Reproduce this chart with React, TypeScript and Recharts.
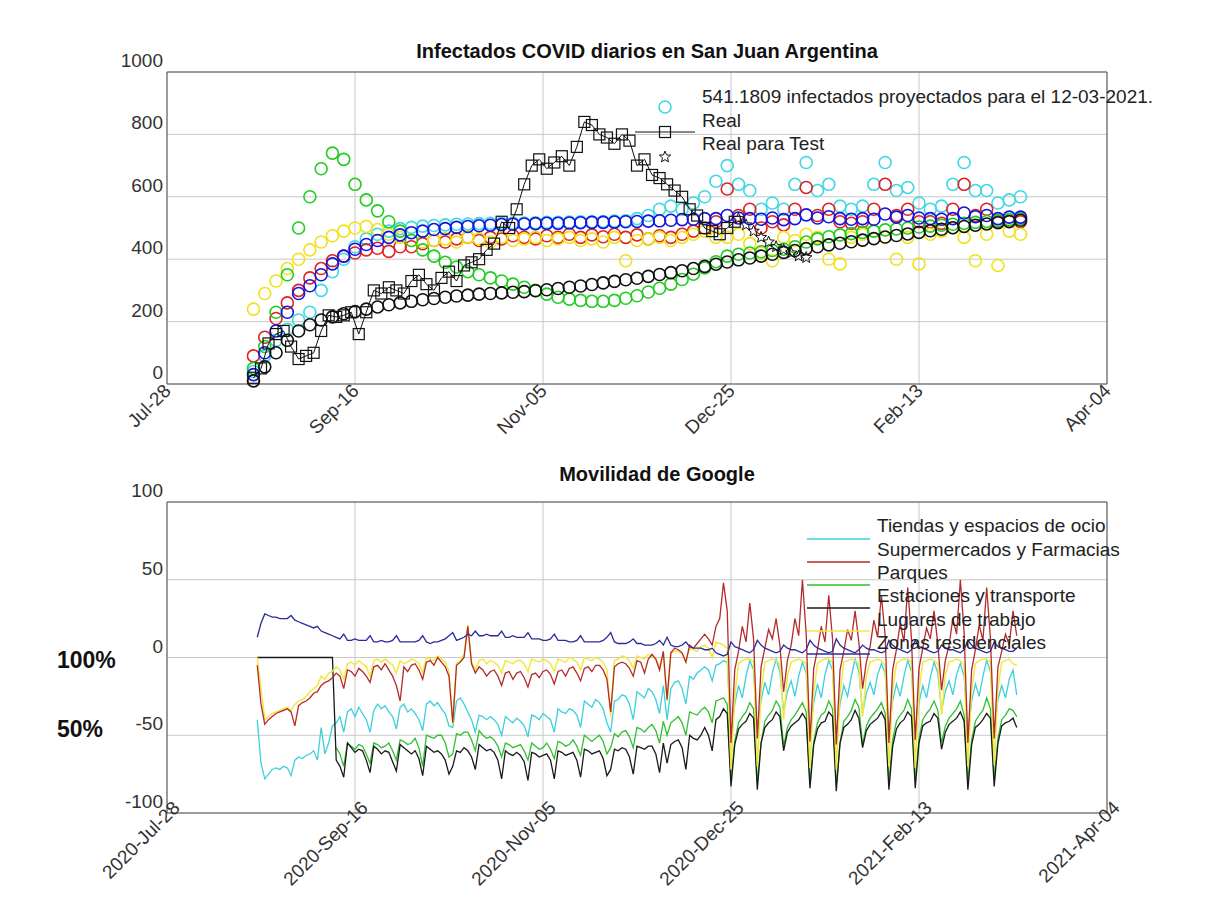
import React from "react";
import {
  ScatterChart, Scatter, LineChart, Line, XAxis, YAxis, CartesianGrid, ReferenceLine,
} from "recharts";

const FONT = '"Liberation Sans", Arial, sans-serif';

// x axis: days since 2020-07-28
const tickDays = [0, 50, 100, 150, 200, 250];
const topTickLabels = ["Jul-28", "Sep-16", "Nov-05", "Dec-25", "Feb-13", "Apr-04"];
const bottomTickLabels = ["2020-Jul-28", "2020-Sep-16", "2020-Nov-05", "2020-Dec-25", "2021-Feb-13", "2021-Apr-04"];
const casesTicks = [0, 200, 400, 600, 800, 1000];
const mobilityTicks = [-100, -50, 0, 50, 100];

// model runs, one point every 3 days from day 23
const MODEL_FIRST_DAY = 23;
const MODEL_STEP = 3;
const modelGreen = [50, 120, 230, 350, 500, 600, 690, 740, 720, 640, 590, 555, 520, 490, 460, 430, 410, 390, 375, 360, 350, 340, 330, 320, 310, 300, 288, 278, 272, 268, 265, 265, 268, 275, 283, 295, 307, 320, 335, 352, 372, 392, 410, 416, 420, 424, 428, 432, 440, 455, 465, 472, 478, 482, 486, 490, 494, 497, 500, 503, 506, 509, 512, 515, 518, 521, 524, 527, 530];
const modelBlack = [10, 55, 100, 140, 170, 190, 205, 215, 225, 232, 240, 247, 254, 260, 265, 270, 274, 278, 282, 285, 288, 290, 292, 294, 296, 299, 302, 306, 310, 314, 319, 324, 329, 334, 339, 345, 351, 357, 363, 370, 377, 384, 391, 398, 404, 410, 416, 422, 428, 434, 440, 446, 451, 456, 461, 466, 471, 476, 481, 486, 491, 496, 501, 505, 509, 513, 517, 521, 525];
const modelBlue = [30, 100, 170, 230, 290, 315, 350, 385, 410, 432, 447, 460, 470, 478, 485, 490, 495, 498, 502, 505, 507, 509, 511, 512, 513, 514, 515, 515, 516, 517, 518, 518, 519, 520, 521, 522, 523, 525, 527, 528, 530, 530, 540, 532, 530, 528, 532, 527, 530, 542, 532, 536, 530, 528, 530, 528, 545, 535, 540, 532, 530, 528, 530, 548, 536, 540, 530, 535, 535];
const modelRed = [90, 150, 210, 260, 300, 340, 370, 395, 410, 420, 430, 435, 425, 440, 440, 450, 460, 455, 465, 470, 460, 470, 465, 475, 470, 465, 475, 470, 480, 470, 478, 472, 480, 470, 478, 465, 475, 470, 480, 490, 500, 520, 625, 540, 560, 500, 520, 510, 560, 630, 540, 560, 520, 515, 520, 560, 640, 540, 560, 520, 520, 515, 560, 640, 540, 560, 520, 520, 520];
const modelCyan = [40, 90, 140, 175, 205, 230, 300, 360, 400, 440, 465, 480, 490, 498, 502, 506, 508, 510, 512, 513, 514, 515, 515, 516, 516, 517, 518, 518, 519, 520, 520, 521, 522, 523, 530, 540, 560, 570, 560, 580, 600, 650, 700, 640, 620, 560, 580, 560, 640, 710, 620, 640, 570, 560, 570, 640, 710, 620, 630, 580, 560, 570, 640, 710, 620, 620, 580, 590, 600];
const modelYellow = [240, 290, 330, 370, 400, 430, 455, 475, 490, 500, 505, 495, 480, 470, 460, 455, 460, 465, 455, 470, 465, 455, 470, 460, 465, 470, 460, 465, 470, 460, 465, 455, 470, 395, 460, 465, 470, 460, 470, 480, 490, 470, 470, 480, 450, 420, 395, 470, 460, 480, 470, 400, 385, 470, 480, 490, 470, 400, 470, 385, 480, 490, 500, 470, 395, 480, 380, 490, 480];

// reported cases, every 2 days from day 23
const REAL_FIRST_DAY = 23;
const REAL_STEP = 2;
const realCases = [20, 50, 130, 160, 170, 120, 80, 90, 100, 170, 220, 215, 220, 230, 160, 230, 300, 290, 310, 300, 290, 330, 350, 320, 300, 340, 360, 330, 380, 390, 400, 430, 450, 520, 500, 560, 640, 700, 720, 690, 710, 730, 700, 760, 840, 830, 800, 790, 770, 800, 780, 700, 720, 670, 660, 640, 620, 600, 560, 540, 500, 490, 480, 500, 520];
const testDays = [152, 154, 156, 158, 160, 162, 164, 166, 168, 170];
const testCases = [530, 510, 490, 470, 455, 440, 430, 420, 410, 405];

// Google mobility, daily from day 24 (one row per week)
const MOB_FIRST_DAY = 24;
const tiendas = [
  -40, -68, -78, -75, -72, -71, -72, -70, -71, -76, -66, -64, -65, -63, -62, -60, -66, -45, -62, -55, -44,
  -42, -38, -48, -35, -33, -38, -32, -36, -40, -48, -34, -30, -33, -31, -35, -38, -46, -32, -30, -35, -33,
  -36, -40, -47, -30, -28, -31, -29, -33, -36, -44, -45, -28, -26, -30, -35, -40, -48, -37, -38, -40, -38,
  -40, -43, -50, -38, -40, -42, -39, -41, -44, -51, -37, -38, -40, -36, -38, -40, -48, -33, -35, -36, -33,
  -34, -37, -45, -28, -30, -32, -27, -29, -33, -42, -48, -28, -27, -24, -25, -30, -40, -22, -24, -26, -20,
  -22, -27, -36, -18, -40, -20, -16, -15, -20, -30, -12, -14, -10, -8, -6, -8, -15, -5, -4, -2, -3,
  -50, -30, -18, -26, -12, -2, -8, -48, -28, -16, -24, -10, -1, -9, -35, -22, -15, -25, -12, -3, -10,
  -49, -29, -17, -26, -11, -2, -8, -50, -30, -18, -25, -12, -1, -9, -36, -23, -16, -24, -11, -4, -10,
  -48, -28, -17, -25, -12, -2, -9, -49, -29, -18, -26, -13, -3, -10, -34, -22, -15, -24, -11, -4, -12,
  -48, -28, -17, -25, -12, -2, -9, -47, -27, -18, -26, -14, -8, -24,
];
const supermercados = [
  -5, -30, -43, -40, -38, -36, -35, -34, -33, -35, -44, -31, -29, -28, -26, -23, -22, -18, -16, -15, -13,
  -10, -12, -20, -8, -9, -12, -7, -9, -12, -16, -6, -5, -8, -4, -8, -12, -18, -28, -6, -9, -5,
  -4, -8, -14, -3, -2, -5, 0, -3, -6, -12, -42, -5, -3, 0, 20, -4, -10, -6, -8, -12, -9,
  -8, -12, -18, -10, -9, -14, -10, -9, -13, -19, -11, -10, -13, -9, -8, -11, -17, -9, -8, -12, -7,
  -6, -10, -15, -7, -6, -9, -5, -5, -8, -14, -35, -6, -4, -3, -4, -7, -12, -2, -3, -10, -1,
  2, -1, -8, 4, -27, 3, 6, 5, 3, -3, 8, 6, 9, 12, 15, 12, 8, 20, 25, 48, 30,
  -55, -8, 4, 20, 10, 35, 12, -52, -6, 6, 18, 12, 25, 8, -22, -2, 8, 25, 14, 50, 15,
  -54, -7, 5, 20, 10, 40, 12, -56, -8, 4, 18, 11, 30, 10, -20, -3, 7, 24, 13, 40, 14,
  -55, -8, 5, 22, 10, 45, 12, -53, -7, 6, 19, 12, 30, 9, -21, -2, 8, 25, 15, 50, 16,
  -55, -8, 5, 21, 11, 45, 12, -52, -6, 4, 15, 8, 30, 14,
];
const parques = [
  null, null, null, null, null, null, null, null, null, null, null, null, null, null, null, null, null, null, null, null, null,
  -58, -62, -70, -55, -57, -59, -56, -57, -62, -68, -55, -56, -58, -57, -55, -60, -66, -53, -54, -56, -55,
  -52, -58, -70, -50, -51, -52, -50, -50, -55, -64, -62, -49, -50, -48, -48, -53, -60, -47, -50, -52, -51,
  -53, -57, -64, -55, -56, -58, -57, -56, -60, -66, -55, -57, -59, -58, -55, -59, -65, -54, -55, -57, -56,
  -53, -57, -63, -50, -52, -54, -52, -50, -54, -62, -58, -49, -51, -48, -47, -51, -58, -45, -46, -48, -45,
  -43, -47, -55, -41, -50, -42, -40, -38, -42, -50, -35, -36, -37, -34, -32, -35, -42, -28, -27, -26, -30,
  -78, -54, -42, -38, -35, -29, -33, -80, -55, -41, -37, -34, -28, -32, -57, -45, -40, -37, -33, -29, -35,
  -81, -54, -42, -37, -35, -28, -33, -82, -55, -41, -38, -34, -27, -32, -56, -44, -39, -36, -33, -29, -36,
  -80, -53, -41, -37, -34, -27, -33, -79, -52, -40, -36, -33, -28, -34, -55, -44, -39, -36, -33, -28, -37,
  -80, -53, -41, -37, -34, -26, -33, -78, -52, -40, -37, -33, -34, -38,
];
const estaciones = [
  0, 0, 0, 0, 0, 0, 0, 0, 0, 0, 0, 0, 0, 0, 0, 0, 0, 0, 0, 0, 0,
  -66, -70, -77, -55, -58, -61, -59, -60, -66, -74, -57, -59, -62, -60, -61, -67, -73, -56, -58, -60, -62,
  -60, -65, -76, -57, -59, -61, -60, -62, -66, -75, -70, -60, -61, -58, -60, -64, -72, -56, -58, -60, -59,
  -61, -66, -78, -60, -62, -63, -61, -63, -67, -79, -61, -62, -64, -63, -62, -66, -78, -60, -61, -63, -62,
  -61, -66, -77, -59, -60, -62, -61, -60, -65, -76, -72, -59, -60, -58, -59, -64, -75, -57, -58, -59, -57,
  -57, -62, -74, -55, -68, -56, -54, -53, -58, -72, -50, -52, -53, -50, -45, -50, -60, -40, -38, -33, -36,
  -83, -56, -46, -43, -41, -36, -39, -85, -55, -45, -42, -40, -35, -38, -60, -48, -44, -42, -40, -36, -40,
  -84, -56, -46, -42, -41, -35, -38, -86, -55, -45, -43, -40, -34, -39, -58, -47, -43, -41, -39, -35, -40,
  -85, -57, -46, -42, -40, -35, -38, -84, -55, -44, -42, -41, -36, -39, -59, -48, -43, -41, -39, -35, -41,
  -85, -56, -45, -43, -40, -36, -39, -83, -55, -44, -42, -41, -39, -45,
];
const trabajo = [
  0, -20, -40, -38, -36, -35, -34, -33, -32, -34, -30, -28, -27, -25, -22, -20, -18, -12, -14, -10, -9,
  -6, -8, -14, -4, -3, -5, -2, -4, -6, -12, -2, -1, -3, -1, -3, -5, -10, -2, -4, -3, -1,
  -2, -4, -10, 0, -1, -2, 1, -1, -3, -9, -43, -4, -2, 2, 21, -3, -8, -2, -1, -4, -2,
  -3, -5, -10, -2, -3, -4, -2, -2, -4, -9, -1, -2, -3, -1, -2, -4, -9, -1, -2, -3, 0,
  -1, -3, -8, 0, -1, -2, 0, -1, -3, -8, -38, -2, -1, 1, 0, -2, -7, 1, 0, -1, 2,
  1, -1, -6, 2, -28, 3, 4, 4, 2, -3, 6, 5, 4, 7, 8, 6, 0, 10, 9, 8, 6,
  -72, -25, -4, -2, -1, -1, -3, -70, -22, -3, -2, -1, -2, -4, -40, -12, -3, -2, -1, -2, -4,
  -71, -22, -4, -2, -1, -1, -3, -72, -23, -3, -2, -1, -2, -4, -38, -12, -3, -2, -1, -2, -5,
  -70, -21, -4, -2, -1, -1, -3, -71, -22, -3, -2, -1, -2, -4, -37, -11, -3, -2, -1, -2, -5,
  -70, -21, -4, -2, -1, -1, -3, -69, -20, -3, -2, -1, -4, -5,
];
const residencial = [
  13, 22, 28, 27, 26, 26, 25, 25, 25, 27, 24, 23, 22, 21, 20, 19, 20, 17, 16, 15, 14,
  13, 12, 15, 11, 11, 12, 11, 11, 11, 14, 10, 10, 11, 10, 10, 11, 14, 10, 10, 10, 10,
  10, 11, 14, 10, 9, 10, 10, 11, 12, 14, 16, 11, 12, 13, 15, 14, 17, 14, 14, 15, 14,
  14, 14, 17, 13, 13, 14, 13, 13, 13, 16, 12, 12, 12, 11, 11, 12, 15, 11, 11, 11, 10,
  10, 11, 14, 10, 10, 10, 10, 10, 11, 13, 16, 10, 9, 9, 9, 10, 12, 9, 9, 8, 8,
  8, 9, 11, 8, 13, 8, 7, 7, 8, 10, 7, 6, 6, 6, 5, 5, 6, 3, 2, 1, 2,
  10, 7, 6, 5, 4, 3, 5, 11, 8, 6, 5, 4, 3, 4, 8, 6, 5, 5, 4, 3, 5,
  11, 8, 6, 5, 4, 3, 4, 12, 8, 6, 5, 4, 3, 5, 8, 6, 5, 5, 4, 3, 4,
  11, 8, 6, 5, 4, 3, 5, 11, 7, 6, 5, 4, 3, 4, 8, 6, 5, 5, 4, 3, 5,
  11, 8, 6, 5, 4, 3, 4, 10, 7, 6, 5, 4, 4, 6,
];

const toPoints = (vals: number[], first: number, step: number) =>
  vals.map((v, i) => ({ d: first + i * step, v }));

const mobility = tiendas.map((_, i) => ({
  day: MOB_FIRST_DAY + i,
  tiendas: tiendas[i],
  supermercados: supermercados[i],
  parques: parques[i],
  estaciones: estaciones[i],
  trabajo: trabajo[i],
  residencial: residencial[i],
}));

const circle = (color: string) => (p: any) =>
  <circle cx={p.cx} cy={p.cy} r={6} fill="none" stroke={color} strokeWidth={1.6} />;

const square = (p: any) =>
  <rect x={p.cx - 5.5} y={p.cy - 5.5} width={11} height={11} fill="none" stroke="#111" strokeWidth={1.2} />;

function starPath(cx: number, cy: number, R: number, r: number) {
  let d = "";
  for (let i = 0; i < 10; i++) {
    const a = -Math.PI / 2 + (i * Math.PI) / 5;
    const rad = i % 2 === 0 ? R : r;
    d += (i === 0 ? "M" : "L") + (cx + rad * Math.cos(a)).toFixed(1) + "," + (cy + rad * Math.sin(a)).toFixed(1);
  }
  return d + "Z";
}

const star = (p: any) => <path d={starPath(p.cx, p.cy, 6, 2.6)} fill="none" stroke="#111" strokeWidth={1} />;

const xTick = (labels: string[], dx: number, dy: number) => (p: any) => {
  const i = tickDays.indexOf(p.payload.value);
  const ax = p.x + dx;
  const ay = p.y + dy;
  return (
    <text x={ax} y={ay} textAnchor="end" fontSize={19} fill="#333" fontFamily={FONT}
      transform={`rotate(-45, ${ax}, ${ay})`}>
      {labels[i]}
    </text>
  );
};

const yTick = (p: any) => (
  <text x={p.x} y={p.y - 5} textAnchor="end" fontSize={19} fill="#333" fontFamily={FONT}>
    {p.payload.value}
  </text>
);

const GRID = "#c8c8c8";
const FRAME = "#555";

export default function App() {
  return (
    <div style={{ position: "absolute", left: 0, top: 0, width: 1215, height: 909, background: "#fff", fontFamily: FONT }}>
      <div style={{ position: "absolute", left: 0, top: 0 }}>
        <ScatterChart width={1215} height={450} margin={{ top: 72, right: 108, bottom: 0, left: 107 }}>
          <CartesianGrid stroke={GRID} />
          <XAxis type="number" dataKey="d" domain={[0, 250]} ticks={tickDays} height={66}
            tickLine={false} tickSize={0} tickMargin={0} axisLine={{ stroke: FRAME }}
            tick={xTick(topTickLabels, 5, 8)} interval={0} />
          <YAxis type="number" dataKey="v" domain={[0, 1000]} ticks={casesTicks} width={60}
            tickLine={false} tickSize={0} tickMargin={4} axisLine={{ stroke: FRAME }} tick={yTick} interval={0} />
          <ReferenceLine y={1000} stroke={FRAME} />
          <ReferenceLine x={250} stroke={FRAME} />
          <Scatter data={toPoints(modelCyan, MODEL_FIRST_DAY, MODEL_STEP)} shape={circle("#3fd8e6")} isAnimationActive={false} />
          <Scatter data={toPoints(modelRed, MODEL_FIRST_DAY, MODEL_STEP)} shape={circle("#e02222")} isAnimationActive={false} />
          <Scatter data={toPoints(modelYellow, MODEL_FIRST_DAY, MODEL_STEP)} shape={circle("#f0e21a")} isAnimationActive={false} />
          <Scatter data={toPoints(modelGreen, MODEL_FIRST_DAY, MODEL_STEP)} shape={circle("#22cc22")} isAnimationActive={false} />
          <Scatter data={toPoints(modelBlue, MODEL_FIRST_DAY, MODEL_STEP)} shape={circle("#1414e0")} isAnimationActive={false} />
          <Scatter data={toPoints(modelBlack, MODEL_FIRST_DAY, MODEL_STEP)} shape={circle("#111")} isAnimationActive={false} />
          <Scatter data={toPoints(realCases, REAL_FIRST_DAY, REAL_STEP)} shape={square}
            line={{ stroke: "#111", strokeWidth: 1 }} isAnimationActive={false} />
          <Scatter data={testDays.map((d, i) => ({ d, v: testCases[i] }))} shape={star} isAnimationActive={false} />
        </ScatterChart>
      </div>

      <div style={{ position: "absolute", left: 0, top: 430 }}>
        <LineChart width={1215} height={479} data={mobility} margin={{ top: 72, right: 108, bottom: 0, left: 107 }}>
          <CartesianGrid stroke={GRID} />
          <XAxis type="number" dataKey="day" domain={[0, 250]} ticks={tickDays} height={96}
            tickLine={false} tickSize={0} tickMargin={0} axisLine={{ stroke: FRAME }}
            tick={xTick(bottomTickLabels, 14, -4)} interval={0} />
          <YAxis type="number" domain={[-100, 100]} ticks={mobilityTicks} width={60}
            tickLine={false} tickSize={0} tickMargin={4} axisLine={{ stroke: FRAME }} tick={yTick} interval={0} />
          <ReferenceLine y={100} stroke={FRAME} />
          <ReferenceLine x={250} stroke={FRAME} />
          <Line dataKey="tiendas" stroke="#3cd0dc" strokeWidth={1.3} dot={false} isAnimationActive={false} />
          <Line dataKey="parques" stroke="#2fc02f" strokeWidth={1.3} dot={false} isAnimationActive={false} />
          <Line dataKey="estaciones" stroke="#1a1a1a" strokeWidth={1.3} dot={false} isAnimationActive={false} />
          <Line dataKey="trabajo" stroke="#f2e840" strokeWidth={1.5} dot={false} isAnimationActive={false} />
          <Line dataKey="supermercados" stroke="#b52a2a" strokeWidth={1.3} dot={false} isAnimationActive={false} />
          <Line dataKey="residencial" stroke="#2b2b9c" strokeWidth={1.3} dot={false} isAnimationActive={false} />
        </LineChart>
      </div>

      <svg width={1215} height={909} style={{ position: "absolute", left: 0, top: 0, pointerEvents: "none" }}
        fontFamily={FONT}>
        <text x={647} y={58} textAnchor="middle" fontSize={20} fontWeight="bold" fill="#111">
          Infectados COVID diarios en San Juan Argentina
        </text>
        <text x={657} y={481} textAnchor="middle" fontSize={20} fontWeight="bold" fill="#111">
          Movilidad de Google
        </text>

        <circle cx={665} cy={107} r={6} fill="none" stroke="#3fd8e6" strokeWidth={1.6} />
        <line x1={635} y1={132} x2={695} y2={132} stroke="#111" strokeWidth={1} />
        <rect x={659.5} y={126.5} width={11} height={11} fill="none" stroke="#111" strokeWidth={1.2} />
        <path d={starPath(665, 157, 6, 2.6)} fill="none" stroke="#111" strokeWidth={1} />
        <g fontSize={19} fill="#222">
          <text x={702} y={103}>541.1809 infectados proyectados para el 12-03-2021.</text>
          <text x={702} y={127}>Real</text>
          <text x={702} y={150}>Real para Test</text>
        </g>

        <g strokeWidth={1.5}>
          <line x1={807} y1={539} x2={870} y2={539} stroke="#3cd0dc" />
          <line x1={807} y1={562} x2={870} y2={562} stroke="#b52a2a" />
          <line x1={807} y1={585} x2={870} y2={585} stroke="#2fc02f" />
          <line x1={807} y1={608} x2={870} y2={608} stroke="#1a1a1a" />
          <line x1={807} y1={631} x2={870} y2={631} stroke="#f2e840" />
          <line x1={807} y1={654} x2={870} y2={654} stroke="#2b2b9c" />
        </g>
        <g fontSize={19} fill="#222">
          <text x={877} y={532}>Tiendas y espacios de ocio</text>
          <text x={877} y={556}>Supermercados y Farmacias</text>
          <text x={877} y={579}>Parques</text>
          <text x={877} y={602}>Estaciones y transporte</text>
          <text x={877} y={626}>Lugares de trabajo</text>
          <text x={877} y={649}>Zonas residenciales</text>
        </g>

        <g fontSize={23} fontWeight="bold" fill="#111">
          <text x={57} y={668}>100%</text>
          <text x={57} y={737}>50%</text>
        </g>
      </svg>
    </div>
  );
}
